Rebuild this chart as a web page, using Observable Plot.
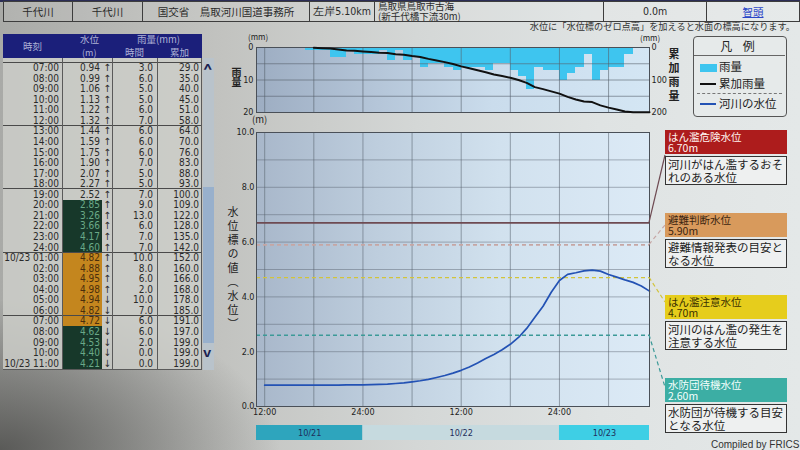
<!DOCTYPE html>
<html>
<head>
<meta charset="utf-8">
<script src="https://cdn.jsdelivr.net/npm/d3@7"></script>
<script src="https://cdn.jsdelivr.net/npm/@observablehq/plot@0.6"></script>
<style>
html,body{margin:0;padding:0}
body{width:800px;height:450px;overflow:hidden;position:relative;
 font-family:"Noto Sans CJK JP","Noto Sans",sans-serif;color:#222;
 background:
  radial-gradient(ellipse 280px 150px at 0% 100%, rgba(70,70,68,.8), rgba(70,70,68,0)),
  linear-gradient(90deg,#a9aaa7 0%,#c2c3c0 28%,#d4d7d6 52%,#dfe3e3 75%,#e4e8e8 100%);}
.a{position:absolute}
.num{font-family:"Liberation Sans Narrow","DejaVu Sans Condensed","Liberation Sans",sans-serif}
</style>
</head>
<body>
<script>
// ---------------- DATA ----------------
// hourly values, hour-ending, from 10/21 12:00 to 10/23 11:00 (48 hours)
const waterLevel = [
  0.78,0.78,0.78,0.78,0.78,0.78,0.78,0.78,0.78,0.78,0.79,0.79,0.79,
  0.80,0.81,0.82,0.84,0.86,0.90,
  0.94,0.99,1.06,1.13,1.22,1.32,1.44,1.59,1.75,1.90,2.07,2.27,2.52,2.85,3.26,3.66,4.17,4.60,
  4.82,4.88,4.95,4.98,4.94,4.82,4.72,4.62,4.53,4.40,4.21
];
const rainHourly = [
  0,0,0,0,0,0,1,1,1,3,3,1,2,
  2,2,1,4,1,4,
  3,6,5,5,6,7,6,6,6,7,5,5,7,9,13,6,7,7,
  10,8,6,2,10,7,6,6,2,0,0
];
const rainCumulative = [
  null,null,null,null,null,null,1,2,3,6,9,10,12,
  14,16,17,21,22,26,
  29,35,40,45,51,58,64,70,76,83,88,93,100,109,122,128,135,142,
  152,160,166,168,178,185,191,197,199,199,199
];
const levelNames  = ["はん濫危険水位","避難判断水位","はん濫注意水位","水防団待機水位"];
const levelValues = [6.70, 5.90, 4.70, 2.60];
const levelNotes  = [["河川がはん濫するおそ","れのある水位"],["避難情報発表の目安と","なる水位"],["河川のはん濫の発生を","注意する水位"],["水防団が待機する目安","となる水位"]];
const dayLabels   = ["10/21","10/22","10/23"];
const levelTicks  = [0,2,4,6,8,10];
const rainTicks   = [0,10,20];
const cumTicks    = [0,100,200];
const headerTexts = ["千代川","千代川","国交省　鳥取河川国道事務所","左岸5.10km","鳥取県鳥取市古海\n(新千代橋下流30m)","0.0m","智頭"];
const noteText    = "水位に「水位標のゼロ点高」を加えると水面の標高になります。";
const legendItems = ["雨量","累加雨量","河川の水位"];

// ---------------- STYLES / LAYOUT ----------------
const H = 3600000;
const t0 = Date.UTC(2017, 9, 21, 12);
const times = waterLevel.map((_, i) => new Date(t0 + i * H));
const xDomain = [new Date(t0 - H), new Date(t0 + 47 * H)];
const rows = times.map((t, i) => ({t, t1: new Date(+t - H), level: waterLevel[i], rain: rainHourly[i], cum: rainCumulative[i]}));
const grid6 = d3.utcHour.every(6).range(xDomain[0], new Date(+xDomain[1] + 1));
const tick12 = d3.utcHour.every(12).range(xDomain[0], new Date(+xDomain[1] + 1));
const levelStyle = [
  {stroke:"#6e4a52", w:1.6, dash:null, box:"#ad1c1c", txt:"#fff4f0"},
  {stroke:"#c6a6a4", w:1.6, dash:"4,3", box:"#d89a5c", txt:"#3a2410"},
  {stroke:"#d2c43a", w:1.3, dash:"4,3", box:"#e6cd1c", txt:"#3a3000"},
  {stroke:"#3c9a98", w:1.3, dash:"4,3", box:"#3caea4", txt:"#f4fffd"}
];
const bandColors = ["#2ea5bd","#c6dadf","#3ecfe5"];
const axisFont = {fontFamily:"'Liberation Sans Narrow','DejaVu Sans Condensed','Liberation Sans',sans-serif", fontSize:"9px", color:"#1e1e1e", background:"transparent", overflow:"visible"};

function el(tag, style, text, parent) {
  const e = document.createElement(tag);
  e.className = "a";
  Object.assign(e.style, style);
  if (text != null) e.textContent = text;
  (parent || document.body).appendChild(e);
  return e;
}
function place(node, left, top) {
  node.style.position = "absolute"; node.style.left = left + "px"; node.style.top = top + "px";
  document.body.appendChild(node);
  return node;
}

// ---------------- HEADER ----------------
el("div", {left:"0px", top:"0px", width:"800px", height:"2px", background:"#2b2d55"});
const headerCols = [[3,73],[73,143],[143,310],[310,375],[375,604],[604,707],[707,800]];
headerCols.forEach(([x0, x1], i) => {
  const c = el("div", {left:x0+"px", top:"1px", width:(x1-x0)+"px", height:"21px", boxSizing:"border-box",
    borderTop:"1px solid #3d3d3d", borderBottom:"1px solid #3d3d3d", borderRight:"1px solid #3d3d3d",
    borderLeft: i === 0 ? "1px solid #3d3d3d" : "none", background:"rgba(255,255,255,0.10)",
    display:"flex", alignItems:"center", justifyContent: i === 4 ? "flex-start" : "center",
    paddingLeft: i === 4 ? "3px" : "0px", fontSize: i === 4 ? "9.5px" : "10.5px", lineHeight:"9.5px", whiteSpace:"pre", color:"#2a2a2a"});
  const s = document.createElement("span");
  s.textContent = headerTexts[i];
  if (i === 6) { s.style.color = "#2a46c8"; s.style.textDecoration = "underline"; }
  if (i === 3 || i === 5) s.className = "num";
  c.appendChild(s);
});
el("div", {right:"5px", top:"21px", fontSize:"9.2px", lineHeight:"10px", color:"#333", whiteSpace:"nowrap"}, noteText);

// ---------------- TABLE ----------------
const th = el("div", {left:"3px", top:"34px", width:"199px", height:"24px", background:"#1b1f7a", color:"#aeb2d6", fontSize:"9.5px", lineHeight:"10px"});
el("div", {left:"20px", top:"7px"}, "時刻", th);
el("div", {left:"77px", top:"0px"}, "水位", th);
el("div", {left:"79px", top:"14px", fontSize:"9px", lineHeight:"9px"}, "(m)", th);
el("div", {left:"134px", top:"0px"}, "雨量(mm)", th);
el("div", {left:"122px", top:"13px"}, "時間", th);
el("div", {left:"167px", top:"13px"}, "累加", th);

const tbl = el("div", {left:"3px", top:"58px", width:"199px", height:"312px", overflow:"hidden", background:"rgba(206,207,203,0.8)", fontSize:"10px", color:"#2a2a2a"});
tbl.classList.add("num");
const rowH = 10.56, firstCenter = 9.76;
el("div", {left:"0px", top:"4px", width:"199px", height:"1px", background:"#4a4a4a"}, null, tbl);
for (let idx = 19; idx < 48; idx++) {
  const r = idx - 19;
  const top = Math.round(firstCenter + r * rowH - rowH / 2);
  const next = Math.round(firstCenter + (r + 1) * rowH - rowH / 2);
  const hgt = next - top;
  const t = times[idx], h = t.getUTCHours();
  const d = new Date(+t - (h === 0 ? H : 0));
  let label = String(h === 0 ? 24 : h).padStart(2, "0") + ":00";
  if (h === 1 || idx === 47) label = (d.getUTCMonth() + 1) + "/" + d.getUTCDate() + " " + label;
  const lv = waterLevel[idx];
  const base = {top: top + "px", height: hgt + "px", lineHeight: hgt + "px"};
  el("div", Object.assign({left:"0px", width:"56px", textAlign:"right"}, base), label, tbl);
  let bg = "transparent", fg = "#2a2a2a";
  if (lv >= levelValues[2]) { bg = "#c4861e"; fg = "#4a2e0c"; }
  else if (lv >= levelValues[3]) { bg = "#17382a"; fg = "#6aa888"; }
  el("div", Object.assign({left:"59px", width:"40px", textAlign:"right", background:bg, color:fg, paddingRight:"2px", boxSizing:"border-box"}, base), lv.toFixed(2), tbl);
  const prev = waterLevel[idx - 1];
  el("div", Object.assign({left:"100px", width:"9px", textAlign:"center"}, base), lv >= prev ? "↑" : "↓", tbl);
  el("div", Object.assign({left:"109px", width:"41px", textAlign:"right"}, base), rainHourly[idx].toFixed(1), tbl);
  el("div", Object.assign({left:"154px", width:"42px", textAlign:"right"}, base), rainCumulative[idx].toFixed(1), tbl);
  if (h % 6 === 0 && idx < 47) el("div", {left:"0px", top:(next - 1) + "px", width:"199px", height:"1px", background:"#4a4a4a"}, null, tbl);
}
[59, 109, 154].forEach(x => el("div", {left:x+"px", top:"0px", width:"1px", height:"312px", background:"#5a5a5a"}, null, tbl));
el("div", {left:"198px", top:"0px", width:"1px", height:"312px", background:"#5a5a5a"}, null, tbl);
el("div", {left:"0px", top:"311px", width:"199px", height:"1px", background:"#5a5a5a"}, null, tbl);
// scrollbar
el("div", {left:"203px", top:"58px", width:"11px", height:"312px", background:"#b9c3cb"});
el("div", {left:"203px", top:"187px", width:"11px", height:"156px", background:"#98b0cc"});
el("div", {left:"204px", top:"62px", fontSize:"13px", lineHeight:"14px", fontWeight:"bold", color:"#1b2250", transform:"scaleX(1.3)"}, "^");
el("div", {left:"204px", top:"346px", fontSize:"11px", lineHeight:"12px", fontWeight:"bold", color:"#1b2250", transform:"scaleX(1.3)"}, "v");

// ---------------- RAIN CHART ----------------
const rainL = 256, rainT = 47, rainW = 393, rainH = 65;
el("div", {left:rainL+"px", top:rainT+"px", width:rainW+"px", height:rainH+"px",
  background:"linear-gradient(90deg,#9dadc2 0%,#b4c5d8 30%,#cadcec 60%,#d4e6f4 100%)"});
const rainPlot = Plot.plot({
  width: 30 + rainW + 40, height: 12 + rainH + 4,
  marginLeft: 30, marginRight: 40, marginTop: 12, marginBottom: 4,
  style: axisFont,
  x: {type: "utc", domain: xDomain, axis: null},
  y: {domain: [0, 20], reverse: true},
  marks: [
    Plot.rect(rows.filter(d => d.rain > 0), {x1: "t1", x2: "t", y1: 0, y2: "rain", fill: "#3ec5ef", inset: 0, shapeRendering: "crispEdges"}),
    Plot.gridX(grid6, {stroke: "#56606c", strokeOpacity: 0.6}),
    Plot.gridY([5, 10, 15], {stroke: "#56606c", strokeOpacity: 0.6}),
    Plot.frame({stroke: "#4a5058"}),
    Plot.axisY(rainTicks, {anchor: "left", tickSize: 0, tickPadding: 3, label: null})
  ]
});
place(rainPlot, rainL - 30, rainT - 12);
const cumPlot = Plot.plot({
  width: 30 + rainW + 40, height: 12 + rainH + 4,
  marginLeft: 30, marginRight: 40, marginTop: 12, marginBottom: 4,
  style: axisFont,
  x: {type: "utc", domain: xDomain, axis: null},
  y: {domain: [0, 200], reverse: true},
  marks: [
    Plot.line(rows, {x: "t", y: "cum", stroke: "#111", strokeWidth: 2}),
    Plot.axisY(cumTicks, {anchor: "right", tickSize: 0, tickPadding: 2, label: null})
  ]
});
place(cumPlot, rainL - 30, rainT - 12);
el("div", {left:"248px", top:"33px", fontSize:"8px", lineHeight:"8px"}, "(mm)");
el("div", {left:"640px", top:"34px", fontSize:"8px", lineHeight:"8px"}, "(mm)");
el("div", {left:"231px", top:"67px", fontSize:"10px", fontWeight:"bold", writingMode:"vertical-rl", lineHeight:"10px"}, "雨量");
el("div", {left:"668px", top:"48px", fontSize:"11px", fontWeight:"bold", writingMode:"vertical-rl", letterSpacing:"3px", lineHeight:"11px"}, "累加雨量");

// ---------------- MAIN CHART ----------------
const mL = 256, mT = 132, mW = 393, mH = 274;
el("div", {left:mL+"px", top:mT+"px", width:mW+"px", height:mH+"px",
  background:"linear-gradient(90deg,#a8b7ca 0%,#bdcddd 30%,#d1e1ee 62%,#dceaf6 100%)"});
const levelMarks = levelValues.map((v, k) => Plot.ruleY([v], {stroke: levelStyle[k].stroke, strokeWidth: levelStyle[k].w, strokeDasharray: levelStyle[k].dash}));
const mainPlot = Plot.plot({
  width: 30 + mW + 4, height: 14 + mH + 18,
  marginLeft: 30, marginRight: 4, marginTop: 14, marginBottom: 18,
  style: axisFont,
  x: {type: "utc", domain: xDomain},
  y: {domain: [0, 10]},
  marks: [
    Plot.gridX(grid6, {stroke: "#56606c", strokeOpacity: 0.55}),
    Plot.gridY(d3.range(1, 10), {stroke: "#56606c", strokeOpacity: 0.45}),
    ...levelMarks,
    Plot.line(rows, {x: "t", y: "level", stroke: "#2352b4", strokeWidth: 1.7}),
    Plot.frame({stroke: "#4a5058"}),
    Plot.axisY(levelTicks, {anchor: "left", tickSize: 0, tickPadding: 2, tickFormat: d => d.toFixed(1), label: null}),
    Plot.axisX(tick12, {anchor: "bottom", tickSize: 0, tickPadding: 2, tickFormat: d => d.getUTCHours() === 0 ? "24:00" : "12:00", label: null})
  ]
});
place(mainPlot, mL - 30, mT - 14);
el("div", {left:"252px", top:"115px", fontSize:"9.5px", lineHeight:"9.5px"}, "(m)");
el("div", {left:"227px", top:"206px", fontSize:"11px", writingMode:"vertical-rl", letterSpacing:"3px", lineHeight:"11px"}, "水位標の値（水位）");

// date bands
const dayRows = dayLabels.map((lab, k) => {
  const s = Date.UTC(2017, 9, 21 + k);
  return {lab, x1: new Date(Math.max(+xDomain[0], s)), x2: new Date(Math.min(+xDomain[1], s + 24 * H)), fill: bandColors[k]};
});
const bandPlot = Plot.plot({
  width: mW, height: 15, margin: 0,
  style: Object.assign({}, axisFont, {fontSize: "9px"}),
  x: {type: "utc", domain: xDomain, axis: null},
  y: {domain: [0, 1], axis: null},
  color: {type: "identity"},
  marks: [
    Plot.rect(dayRows, {x1: "x1", x2: "x2", y1: 0, y2: 1, fill: "fill", inset: 0}),
    Plot.text(dayRows, {x: d => new Date((+d.x1 + +d.x2) / 2), y: 0.5, text: "lab", fill: "#1f2f5c"})
  ]
});
place(bandPlot, mL, 425);

// ---------------- LEVEL LEGEND BOXES + LEADERS ----------------
const boxL = 665, boxW = 122;
const boxTops = [130, 213, 295, 378];
const leaderEnd = [25, 12, 7, 9];
const yScale = mainPlot.scale("y");
const ov = d3.select(document.body).append("svg").attr("class", "a")
  .style("left", "0px").style("top", "0px").attr("width", 800).attr("height", 450).style("pointer-events", "none");
levelValues.forEach((v, k) => {
  const st = levelStyle[k];
  const y = (mT - 14) + yScale.apply(v);
  ov.append("line").attr("x1", mL + mW).attr("y1", y).attr("x2", boxL).attr("y2", boxTops[k] + leaderEnd[k])
    .attr("stroke", st.stroke).attr("stroke-width", 1.2).attr("stroke-dasharray", st.dash);
  el("div", {left:boxL+"px", top:boxTops[k]+"px", width:boxW+"px", height:"24px", background:st.box, color:st.txt,
    fontSize:"10.5px", lineHeight:"11px", padding:"1px 3px", boxSizing:"border-box", whiteSpace:"pre"},
    levelNames[k] + "\n" + levelValues[k].toFixed(2) + "m");
  el("div", {left:boxL+"px", top:(boxTops[k] + 26)+"px", width:boxW+"px", height:"29px", background:"#eef0f0",
    border:"1.5px solid #333", boxSizing:"border-box", fontSize:"11.5px", lineHeight:"12.5px", padding:"1px 2px", color:"#222", whiteSpace:"pre"},
    levelNotes[k].join("\n"));
});

// ---------------- LEGEND (凡例) ----------------
const lg = el("div", {left:"693px", top:"36px", width:"94px", height:"81px", border:"1.5px solid #555", borderRadius:"4px", background:"#e6eaea", boxSizing:"border-box"});
el("div", {left:"0px", top:"3px", width:"91px", textAlign:"center", fontSize:"12px", lineHeight:"12px", letterSpacing:"4px"}, "凡 例", lg);
el("div", {left:"0px", top:"18px", width:"91px", height:"1px", background:"#666"}, null, lg);
el("div", {left:"6px", top:"27px", width:"17px", height:"8px", background:"#3ec5ef"}, null, lg);
el("div", {left:"25px", top:"24px", fontSize:"11.5px", lineHeight:"11.5px"}, legendItems[0], lg);
el("div", {left:"6px", top:"46px", width:"16px", height:"2px", background:"#111"}, null, lg);
el("div", {left:"25px", top:"41px", fontSize:"11.5px", lineHeight:"11.5px"}, legendItems[1], lg);
el("div", {left:"3px", top:"56px", width:"85px", height:"0px", borderTop:"1px dashed #777"}, null, lg);
el("div", {left:"6px", top:"66px", width:"16px", height:"2px", background:"#2352b4"}, null, lg);
el("div", {left:"25px", top:"61px", fontSize:"11.5px", lineHeight:"11.5px"}, legendItems[2], lg);

// credit
el("div", {left:"711px", top:"439px", fontSize:"10px", lineHeight:"11px", color:"#333", fontFamily:"'Liberation Sans',sans-serif"}, "Compiled by FRICS");
</script>
</body>
</html>
